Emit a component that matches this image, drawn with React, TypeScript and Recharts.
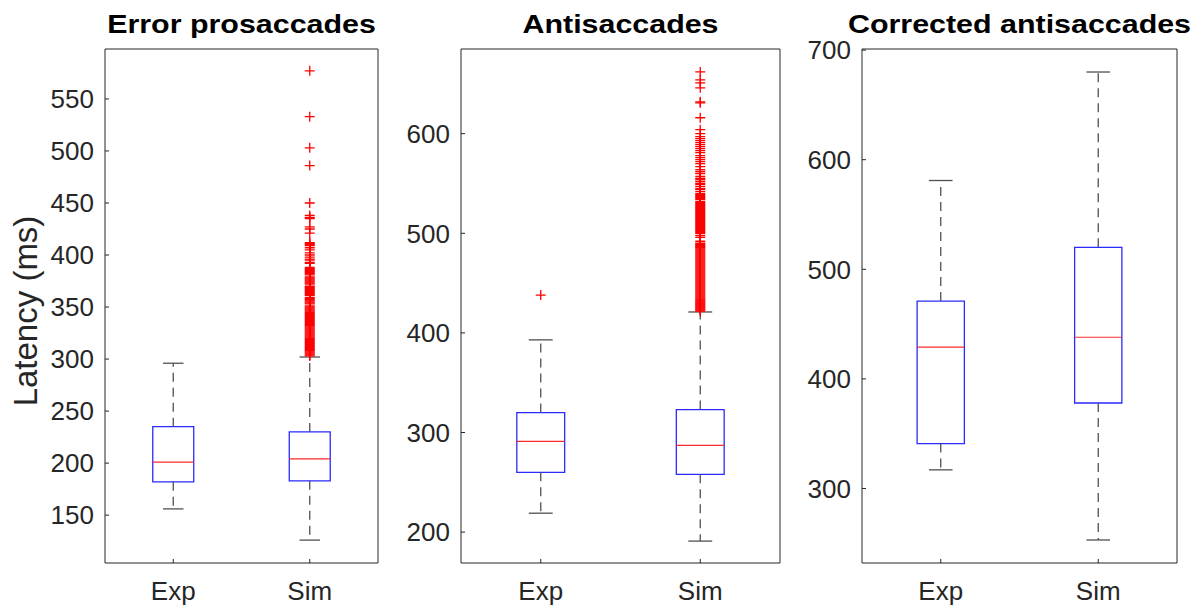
import React from 'react';
import { ComposedChart, XAxis, YAxis, ReferenceArea, ReferenceLine, Scatter } from 'recharts';

const categories = ['Exp', 'Sim'];

// Panel 1: Error prosaccades
const proLow = [156, 126];
const proQ1 = [182, 183];
const proMedian = [201, 204];
const proQ3 = [235, 230];
const proHigh = [296, 302];
const proExpOutliers: number[] = [];
const proSimOutliers = [
  577, 533, 503, 486, 450, 438, 436, 435, 427, 425, 421, 412, 411, 410, 409, 407, 405, 402,
  400, 398, 396, 395, 393, 392, 388, 387, 386, 385, 384, 383, 382, 381, 379, 378, 377, 376,
  375, 374, 373, 372, 370, 369, 368, 367, 366, 365, 364, 363, 362, 361, 359, 358, 357, 356,
  355, 354, 353, 351, 350, 349, 348, 347, 346, 345, 344, 343, 342, 341, 340, 339, 338, 337,
  336, 335, 334, 333, 332, 331, 330, 329, 328, 327, 326, 325, 324, 323, 322, 321, 320, 319,
  318, 317, 316, 315, 314, 313, 312, 311, 310, 309, 308, 307, 306, 305, 304, 303,
];
const proTicks = [150, 200, 250, 300, 350, 400, 450, 500, 550];
const proDomain = [104, 598];

// Panel 2: Antisaccades
const antiLow = [219, 191];
const antiQ1 = [260, 258];
const antiMedian = [291, 287];
const antiQ3 = [320, 323];
const antiHigh = [393, 421];
const antiExpOutliers = [438];
const antiSimOutliers = [
  662, 654, 651, 646, 632, 631, 616, 604, 600, 597, 595, 593, 591, 589, 587, 585, 583, 581,
  578, 576, 574, 572, 570, 567, 564, 562, 560, 557, 555, 554, 552, 550, 549, 547, 545, 544,
  542, 540, 539, 538, 537, 536, 535, 534, 532, 531, 530, 529, 528, 527, 526,
  525, 524, 523, 522, 521, 520, 519, 518, 517, 516, 515, 514, 513, 512, 511, 510, 509, 508,
  507, 506, 505, 504, 503, 502, 501, 500, 498, 496, 492, 490,
  489, 488, 487, 486, 485, 484, 483, 482, 481, 480, 479, 478, 477, 476, 475, 474, 473, 472,
  471, 470, 469, 468, 467, 466, 465, 464, 463, 462, 461, 460, 459, 458, 457, 456, 455, 454,
  453, 452, 451, 450, 449, 448, 447, 446, 445, 444, 443, 442, 441, 440, 439, 438, 437, 436,
  435, 434, 433, 432, 431, 430, 429, 428, 427, 426, 425, 424, 423, 422,
];
const antiTicks = [200, 300, 400, 500, 600];
const antiDomain = [169, 685];

// Panel 3: Corrected antisaccades
const corrLow = [317, 253];
const corrQ1 = [341, 378];
const corrMedian = [429, 438];
const corrQ3 = [471, 520];
const corrHigh = [581, 680];
const corrExpOutliers: number[] = [];
const corrSimOutliers: number[] = [];
const corrTicks = [300, 400, 500, 600, 700];
const corrDomain = [232, 701];

const titles = ['Error prosaccades', 'Antisaccades', 'Corrected antisaccades'];
const yLabel = 'Latency (ms)';

const FONT = '"Liberation Sans", Arial, Helvetica, sans-serif';
const AXIS_COLOR = '#262626';
const BOX_COLOR = '#2a2aff';
const MEDIAN_COLOR = '#ff2a2a';
const WHISKER_COLOR = '#505050';
const OUTLIER_COLOR = '#ff0000';
const BOX_HALF = 0.15;
const CAP_HALF = 0.075;

const Plus = (props: any) => {
  const { cx, cy } = props;
  if (cx == null || cy == null) return null;
  return (
    <path
      d={`M${cx - 5},${cy}h10M${cx},${cy - 5}v10`}
      stroke={OUTLIER_COLOR}
      strokeWidth={1.3}
      fill="none"
    />
  );
};

type PanelProps = {
  left: number;
  width: number;
  axisWidth: number;
  domain: number[];
  ticks: number[];
  low: number[];
  q1: number[];
  median: number[];
  q3: number[];
  high: number[];
  outliers: number[][];
};

function BoxPanel(p: PanelProps) {
  const pts = p.outliers.flatMap((arr, i) => arr.map((v) => ({ x: i + 1, y: v })));
  const ids = { xAxisId: 'b', yAxisId: 'l' } as const;
  return (
    <div style={{ position: 'absolute', left: p.left, top: 0 }}>
      <ComposedChart width={p.width} height={610} margin={{ top: 0, right: 0, bottom: 0, left: 0 }} data={pts}>
        <XAxis
          xAxisId="b"
          dataKey="x"
          type="number"
          domain={[0.5, 2.5]}
          ticks={[1, 2]}
          interval={0}
          allowDataOverflow
          orientation="bottom"
          height={47}
          tickSize={-4}
          tickMargin={22.5}
          stroke={AXIS_COLOR}
          tick={{ fill: AXIS_COLOR, fontSize: 26, fontFamily: FONT }}
          tickFormatter={(v: number) => categories[Math.round(v) - 1]}
        />
        <XAxis
          xAxisId="t"
          dataKey="x"
          type="number"
          domain={[0.5, 2.5]}
          ticks={[1, 2]}
          interval={0}
          allowDataOverflow
          orientation="top"
          height={49}
          tickSize={-4}
          tick={false}
          stroke={AXIS_COLOR}
        />
        <YAxis
          yAxisId="l"
          type="number"
          domain={p.domain}
          ticks={p.ticks}
          interval={0}
          allowDataOverflow
          width={p.axisWidth}
          tickSize={-4}
          tickMargin={15}
          stroke={AXIS_COLOR}
          tick={{ fill: AXIS_COLOR, fontSize: 26, fontFamily: FONT }}
        />
        <YAxis
          yAxisId="r"
          orientation="right"
          type="number"
          domain={p.domain}
          ticks={p.ticks}
          interval={0}
          allowDataOverflow
          width={2}
          tickSize={-4}
          tick={false}
          stroke={AXIS_COLOR}
        />
        {categories.map((_, i) => {
          const c = i + 1;
          return (
            <React.Fragment key={i}>
              <ReferenceLine
                {...ids}
                segment={[{ x: c, y: p.q3[i] }, { x: c, y: p.high[i] }]}
                stroke={WHISKER_COLOR}
                strokeWidth={1.3}
                strokeDasharray="9 6"
              />
              <ReferenceLine
                {...ids}
                segment={[{ x: c, y: p.q1[i] }, { x: c, y: p.low[i] }]}
                stroke={WHISKER_COLOR}
                strokeWidth={1.3}
                strokeDasharray="9 6"
              />
              <ReferenceLine
                {...ids}
                segment={[{ x: c - CAP_HALF, y: p.high[i] }, { x: c + CAP_HALF, y: p.high[i] }]}
                stroke={WHISKER_COLOR}
                strokeWidth={1.3}
              />
              <ReferenceLine
                {...ids}
                segment={[{ x: c - CAP_HALF, y: p.low[i] }, { x: c + CAP_HALF, y: p.low[i] }]}
                stroke={WHISKER_COLOR}
                strokeWidth={1.3}
              />
              <ReferenceArea
                {...ids}
                x1={c - BOX_HALF}
                x2={c + BOX_HALF}
                y1={p.q1[i]}
                y2={p.q3[i]}
                fill="#ffffff"
                fillOpacity={1}
                stroke={BOX_COLOR}
                strokeWidth={1.3}
                ifOverflow="visible"
              />
              <ReferenceLine
                {...ids}
                segment={[{ x: c - BOX_HALF, y: p.median[i] }, { x: c + BOX_HALF, y: p.median[i] }]}
                stroke={MEDIAN_COLOR}
                strokeWidth={1.2}
              />
            </React.Fragment>
          );
        })}
        <Scatter {...ids} data={pts} dataKey="y" isAnimationActive={false} shape={Plus} />
      </ComposedChart>
    </div>
  );
}

export default function App() {
  return (
    <div style={{ position: 'absolute', left: 0, top: 0, width: 1203, height: 610, background: '#ffffff', overflow: 'hidden' }}>
      <BoxPanel
        left={0}
        width={380}
        axisWidth={105}
        domain={proDomain}
        ticks={proTicks}
        low={proLow}
        q1={proQ1}
        median={proMedian}
        q3={proQ3}
        high={proHigh}
        outliers={[proExpOutliers, proSimOutliers]}
      />
      <BoxPanel
        left={361}
        width={421}
        axisWidth={100}
        domain={antiDomain}
        ticks={antiTicks}
        low={antiLow}
        q1={antiQ1}
        median={antiMedian}
        q3={antiQ3}
        high={antiHigh}
        outliers={[antiExpOutliers, antiSimOutliers]}
      />
      <BoxPanel
        left={762}
        width={417}
        axisWidth={100}
        domain={corrDomain}
        ticks={corrTicks}
        low={corrLow}
        q1={corrQ1}
        median={corrMedian}
        q3={corrQ3}
        high={corrHigh}
        outliers={[corrExpOutliers, corrSimOutliers]}
      />
      <svg
        width={1203}
        height={610}
        style={{ position: 'absolute', left: 0, top: 0, pointerEvents: 'none' }}
      >
        {[241.5, 620.5, 1019.5].map((cx, i) => (
          <text
            key={i}
            transform={`translate(${cx} 33) scale(1.17 1)`}
            textAnchor="middle"
            fontFamily={FONT}
            fontWeight="bold"
            fontSize={26}
            fill="#000000"
          >
            {titles[i]}
          </text>
        ))}
        <text
          transform="translate(37 311) rotate(-90)"
          textAnchor="middle"
          fontFamily={FONT}
          fontSize={33}
          fill={AXIS_COLOR}
        >
          {yLabel}
        </text>
      </svg>
    </div>
  );
}
